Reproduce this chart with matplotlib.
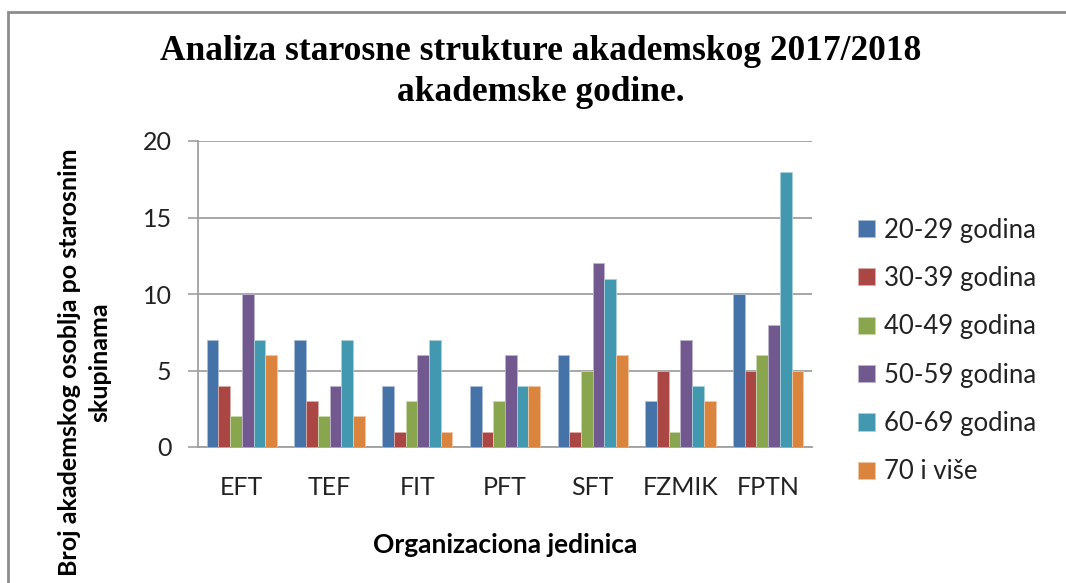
import numpy as np
import matplotlib
matplotlib.use("Agg")
import matplotlib.pyplot as plt
import matplotlib.colors as mcolors
from matplotlib.patches import Rectangle

# data
categories = ["EFT", "TEF", "FIT", "PFT", "SFT", "FZMIK", "FPTN"]
series_names = ["20-29 godina", "30-39 godina", "40-49 godina",
                "50-59 godina", "60-69 godina", "70 i više"]
age_20_29 = [7, 7, 4, 4, 6, 3, 10]
age_30_39 = [4, 3, 1, 1, 1, 5, 5]
age_40_49 = [2, 2, 3, 3, 5, 1, 6]
age_50_59 = [10, 4, 6, 6, 12, 7, 8]
age_60_69 = [7, 7, 7, 4, 11, 4, 18]
age_70_plus = [6, 2, 1, 4, 6, 3, 5]
yticks = [0, 5, 10, 15, 20]

colors = ["#4572A7", "#AA4643", "#89A54E", "#71588F", "#4198AF", "#DB843D"]
series = [age_20_29, age_30_39, age_40_49, age_50_59, age_60_69, age_70_plus]

sans = ["Lato", "DejaVu Sans"]
grey = "#A0A0A0"

fig = plt.figure(figsize=(10.66, 5.83), dpi=100)
fig.patch.set_facecolor("white")

# outer chart border (cut off at right and bottom, like the screenshot)
fig.add_artist(Rectangle((8 / 1066, -0.2), 1.2, 1 - 12 / 583 + 0.2,
                         transform=fig.transFigure, fill=False,
                         edgecolor="#8C8C8C", linewidth=2))

ax = fig.add_axes([198 / 1066, 1 - 447 / 583, 614 / 1066, 306 / 583])

x = np.arange(len(categories))
group_w = 0.8
bw = group_w / len(series)
for i, (vals, name, c) in enumerate(zip(series, series_names, colors)):
    edge = tuple(np.array(mcolors.to_rgb(c)) * 0.45 + 0.55)
    ax.bar(x - group_w / 2 + bw * (i + 0.5), vals, width=bw, color=c,
           edgecolor=edge, linewidth=0.6, label=name, zorder=3)

ax.set_xlim(-0.5, len(categories) - 0.5)
ax.set_ylim(0, 20)
ax.set_yticks(yticks)
ax.set_xticks(x)
ax.set_xticklabels(categories, fontfamily=sans, fontsize=18, color="#222222")
ax.set_yticklabels([str(t) for t in yticks], fontfamily=sans, fontsize=18,
                   color="#222222")
ax.tick_params(axis="x", length=0, pad=21)
ax.tick_params(axis="y", length=7, width=1.2, color=grey, pad=12)
ax.yaxis.grid(True, color=grey, linewidth=1.3, zorder=0)
for s in ["top", "right"]:
    ax.spines[s].set_visible(False)
for s in ["left", "bottom"]:
    ax.spines[s].set_color(grey)
    ax.spines[s].set_linewidth(1.3)

fig.text(541 / 1066, 1 - 72 / 583,
         "Analiza starosne strukture akademskog 2017/2018\nakademske godine.",
         ha="center", va="center", fontfamily="Liberation Serif",
         fontweight="bold", fontsize=25.5, linespacing=1.33)

fig.text(505 / 1066, 1 - 545 / 583, "Organizaciona jedinica", ha="center",
         va="center", fontfamily=sans, fontweight="bold", fontsize=19)
fig.text(85 / 1066, 1 - 362 / 583,
         "Broj akademskog osoblja po starosnim\nskupinama", ha="center",
         va="center", rotation=90, fontfamily=sans, fontweight="bold",
         fontsize=18, linespacing=1.4)

leg = fig.legend(loc="center left", bbox_to_anchor=(858 / 1066, 1 - 351 / 583),
                 frameon=False, prop={"family": sans, "size": 18.5},
                 handlelength=0.65, handleheight=0.65, handletextpad=0.35,
                 labelspacing=0.91, borderpad=0, borderaxespad=0)
for t in leg.get_texts():
    t.set_color("#222222")

fig.savefig("out.png", dpi=100)
